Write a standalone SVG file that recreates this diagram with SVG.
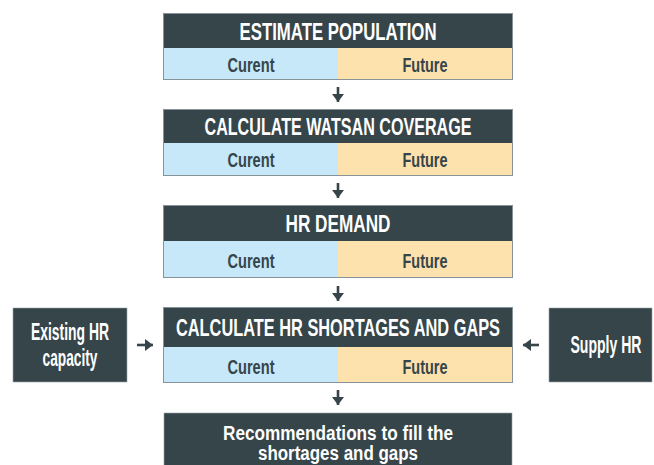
<svg xmlns="http://www.w3.org/2000/svg" width="654" height="465" viewBox="0 0 654 465">
  <style>
    .hdr { fill: #36454a; }
    .cur { fill: #c6e8f8; }
    .fut { fill: #fde2ad; }
    .frame { fill: none; stroke: #86949a; stroke-width: 1; }
    .side { fill: #36454a; stroke: #9aa4a8; stroke-width: 0.6; }
    .ht { font-family: "Liberation Sans", Arial, sans-serif; font-weight: bold; font-size: 23px; fill: #ffffff; text-anchor: middle; }
    .st { font-family: "Liberation Sans", Arial, sans-serif; font-weight: bold; font-size: 20px; fill: #36454a; text-anchor: middle; }
    .wt { font-family: "Liberation Sans", Arial, sans-serif; font-weight: bold; font-size: 23px; fill: #ffffff; text-anchor: middle; }
    .rt { font-family: "Liberation Sans", Arial, sans-serif; font-weight: bold; font-size: 20px; fill: #ffffff; text-anchor: middle; }
    .conn { stroke: #36454a; stroke-width: 2.6; fill: none; marker-end: url(#head); }
  </style>
  <defs>
    <marker id="head" viewBox="0 0 8 12" refX="8" refY="6" markerWidth="8" markerHeight="12" markerUnits="userSpaceOnUse" orient="auto">
      <path d="M0,0 L8,6 L0,12 z" fill="#36454a"/>
    </marker>
  </defs>

  <!-- step 1 -->
  <g id="estimate-population">
    <rect class="hdr" x="164" y="14" width="348" height="34"/>
    <rect class="cur" x="164" y="48" width="174" height="31"/>
    <rect class="fut" x="338" y="48" width="174" height="31"/>
    <rect class="frame" x="163.5" y="13.5" width="349" height="66"/>
    <text class="ht" x="338" y="39.5" textLength="197" lengthAdjust="spacingAndGlyphs">ESTIMATE POPULATION</text>
    <text class="st" x="251" y="72" textLength="47" lengthAdjust="spacingAndGlyphs">Curent</text>
    <text class="st" x="425" y="72" textLength="45" lengthAdjust="spacingAndGlyphs">Future</text>
  </g>

  <!-- step 2 -->
  <g id="watsan-coverage">
    <rect class="hdr" x="164" y="110" width="348" height="33"/>
    <rect class="cur" x="164" y="143" width="174" height="32"/>
    <rect class="fut" x="338" y="143" width="174" height="32"/>
    <rect class="frame" x="163.5" y="109.5" width="349" height="66"/>
    <text class="ht" x="338" y="134.5" textLength="267" lengthAdjust="spacingAndGlyphs">CALCULATE WATSAN COVERAGE</text>
    <text class="st" x="251" y="167" textLength="47" lengthAdjust="spacingAndGlyphs">Curent</text>
    <text class="st" x="425" y="167" textLength="45" lengthAdjust="spacingAndGlyphs">Future</text>
  </g>

  <!-- step 3 -->
  <g id="hr-demand">
    <rect class="hdr" x="164" y="206" width="348" height="35"/>
    <rect class="cur" x="164" y="241" width="174" height="36"/>
    <rect class="fut" x="338" y="241" width="174" height="36"/>
    <rect class="frame" x="163.5" y="205.5" width="349" height="72"/>
    <text class="ht" x="338" y="231.5" textLength="105" lengthAdjust="spacingAndGlyphs">HR DEMAND</text>
    <text class="st" x="251" y="268" textLength="47" lengthAdjust="spacingAndGlyphs">Curent</text>
    <text class="st" x="425" y="268" textLength="45" lengthAdjust="spacingAndGlyphs">Future</text>
  </g>

  <!-- step 4 -->
  <g id="shortages-gaps">
    <rect class="hdr" x="164" y="308" width="348" height="39"/>
    <rect class="cur" x="164" y="347" width="174" height="35"/>
    <rect class="fut" x="338" y="347" width="174" height="35"/>
    <rect class="frame" x="163.5" y="307.5" width="349" height="75"/>
    <text class="ht" x="338" y="335.5" textLength="324" lengthAdjust="spacingAndGlyphs">CALCULATE HR SHORTAGES AND GAPS</text>
    <text class="st" x="251" y="373.5" textLength="47" lengthAdjust="spacingAndGlyphs">Curent</text>
    <text class="st" x="425" y="373.5" textLength="45" lengthAdjust="spacingAndGlyphs">Future</text>
  </g>

  <!-- inputs -->
  <g id="existing-capacity">
    <rect class="side" x="13" y="308" width="114" height="74"/>
    <text class="wt" x="70" y="340" textLength="78" lengthAdjust="spacingAndGlyphs">Existing HR</text>
    <text class="wt" x="70" y="366" textLength="55" lengthAdjust="spacingAndGlyphs">capacity</text>
  </g>
  <g id="supply-hr">
    <rect class="side" x="549" y="308" width="103" height="74"/>
    <text class="wt" x="606" y="353" textLength="71" lengthAdjust="spacingAndGlyphs">Supply HR</text>
  </g>

  <!-- outcome -->
  <g id="recommendations">
    <rect class="side" x="164" y="413" width="348" height="53"/>
    <text class="rt" x="338" y="439.5" textLength="230" lengthAdjust="spacingAndGlyphs">Recommendations to fill the</text>
    <text class="rt" x="338" y="460" textLength="160" lengthAdjust="spacingAndGlyphs">shortages and gaps</text>
  </g>

  <!-- flow arrows -->
  <g id="connectors">
    <path class="conn" d="M338,87 V102"/>
    <path class="conn" d="M338,183 V198"/>
    <path class="conn" d="M338,286 V301"/>
    <path class="conn" d="M338,390 V405"/>
    <path class="conn" d="M137,345 H153"/>
    <path class="conn" d="M539,345 H523"/>
  </g>
</svg>
